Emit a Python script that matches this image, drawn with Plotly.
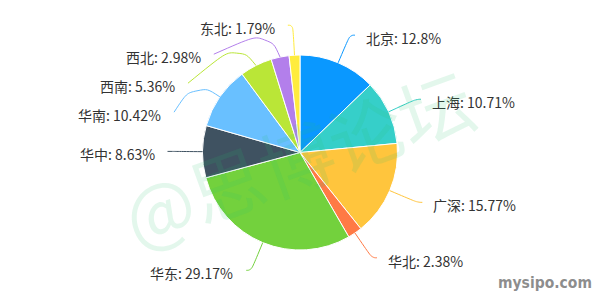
import math
import plotly.graph_objects as go

# ---- data ----
names = ["北京", "上海", "广深", "华北", "华东", "华中", "华南", "西南", "西北", "东北"]
values = [12.8, 10.71, 15.77, 2.38, 29.17, 8.63, 10.42, 5.36, 2.98, 1.79]
colors = ["#0a98ff", "#36cfc9", "#ffc53d", "#ff7a45", "#73d13d",
          "#3f5261", "#69c0ff", "#bae637", "#b37feb", "#ffec3d"]
watermark = "@思博论坛"
site = "mysipo.com"

# ---- layout constants (pixels) ----
W, H = 600, 300
CX, CY, R = 300.0, 152.5, 97.5
LEN1, LEN2 = 30.0, 5.0
GAP = 29.0
SMOOTH = 0.5
TXT_GAP_R, TXT_GAP_L = 9, 11
TXT_DY = 3.0


def px(x, y):
    return x / W, 1 - y / H


def pt(a, r):
    return (CX + r * math.sin(a), CY - r * math.cos(a))


total = sum(values)
items = []
cum = 0.0
for i, (n, v) in enumerate(zip(names, values)):
    a = (cum + v / 2) / total * 2 * math.pi
    cum += v
    p0 = pt(a, R)
    p1 = pt(a, R + LEN1)
    d = 1 if math.sin(a) >= 0 else -1
    items.append(dict(i=i, a=a, dir=d, p0=p0, p1=list(p1), y=p1[1],
                      x2=p1[0] + d * LEN2))

rA = R + LEN1
for side in (1, -1):
    lst = sorted([it for it in items if it["dir"] == side], key=lambda t: t["y"])
    shifted = False
    last = None
    for it in lst:
        if last is not None and it["y"] - last < GAP:
            it["y"] = last + GAP
            shifted = True
        last = it["y"]
    if shifted:
        for semi in (0, 1):
            sl = [it for it in lst if (it["y"] > CY) == bool(semi)]
            if not sl:
                continue
            top = max(sl, key=lambda t: abs(t["y"] - CY))
            dy = abs(top["y"] - CY)
            dxp = top["p1"][0] - CX
            rB = math.sqrt(dy * dy / (1 - dxp * dxp / rA / rA)) if abs(dxp) < rA else rA
            for it in sl:
                dy = abs(it["y"] - CY)
                dx = math.sqrt(max(0.0, 1 - dy * dy / rB / rB)) * rA
                it["x2"] = CX + (dx + LEN2) * side

shapes = []
annotations = []
for it in items:
    p0 = it["p0"]
    p1 = it["p1"]
    p2 = (it["x2"], it["y"])
    # limit turn angle (90 deg)
    v1 = (p0[0] - p1[0], p0[1] - p1[1])
    v2 = (p2[0] - p1[0], p2[1] - p1[1])
    l2 = math.hypot(*v2)
    u2 = (v2[0] / l2, v2[1] / l2)
    if (v1[0] * u2[0] + v1[1] * u2[1]) > 0:
        t = v1[0] * u2[0] + v1[1] * u2[1]
        t = min(max(t, 0), l2)
        p1 = [p1[0] + t * u2[0], p1[1] + t * u2[1]]
    l1 = math.hypot(p0[0] - p1[0], p0[1] - p1[1])
    l2 = math.hypot(p2[0] - p1[0], p2[1] - p1[1])
    mv = min(l1, l2) * SMOOTH
    m0 = (p1[0] + (p0[0] - p1[0]) * mv / l1, p1[1] + (p0[1] - p1[1]) * mv / l1)
    m2 = (p1[0] + (p2[0] - p1[0]) * mv / l2, p1[1] + (p2[1] - p1[1]) * mv / l2)
    m1 = ((m0[0] + m2[0]) / 2, (m0[1] + m2[1]) / 2)

    def f(p):
        x, y = px(*p)
        return f"{x:.5f},{y:.5f}"

    path = f"M {f(p0)} C {f(m0)} {f(m0)} {f(m1)} C {f(m2)} {f(m2)} {f(p2)}"
    shapes.append(dict(type="path", path=path, xref="paper", yref="paper",
                       line=dict(color=colors[it['i']], width=1), layer="above"))
    if it["dir"] > 0:
        ax, anc = p2[0] + TXT_GAP_R, "left"
    else:
        ax, anc = p2[0] - TXT_GAP_L, "right"
    X, Y = px(ax, p2[1] + TXT_DY)
    annotations.append(dict(x=X, y=Y, xref="paper", yref="paper", showarrow=False,
                            xanchor=anc, yanchor="middle",
                            text=f"{names[it['i']]}: {values[it['i']]:g}%",
                            font=dict(family="Noto Sans CJK SC", size=14, color="#333333")))

# watermark
wx, wy = px(297, 155)
annotations.append(dict(x=wx, y=wy, xref="paper", yref="paper", showarrow=False,
                        text=watermark, textangle=-20, xanchor="center", yanchor="middle",
                        font=dict(family="Noto Sans CJK SC", size=74,
                                  color="rgba(40,190,110,0.13)")))
sx, sy = px(594, 283)
annotations.append(dict(x=sx, y=sy, xref="paper", yref="paper", showarrow=False,
                        text=f"<b>{site}</b>", xanchor="right", yanchor="middle",
                        font=dict(family="DejaVu Sans Condensed", size=15.5,
                                  color="rgba(120,120,120,0.85)")))

fig = go.Figure(go.Pie(
    labels=names, values=values, sort=False, direction="clockwise", rotation=0,
    marker=dict(colors=colors, line=dict(color="#ffffff", width=1)),
    textinfo="none", hoverinfo="skip", showlegend=False,
    domain=dict(x=[(CX - R) / W, (CX + R) / W], y=[(H - CY - R) / H, (H - CY + R) / H]),
))
fig.update_layout(width=W, height=H, margin=dict(l=0, r=0, t=0, b=0),
                  paper_bgcolor="white", plot_bgcolor="white",
                  shapes=shapes, annotations=annotations, showlegend=False)
fig.write_html("out.html")
